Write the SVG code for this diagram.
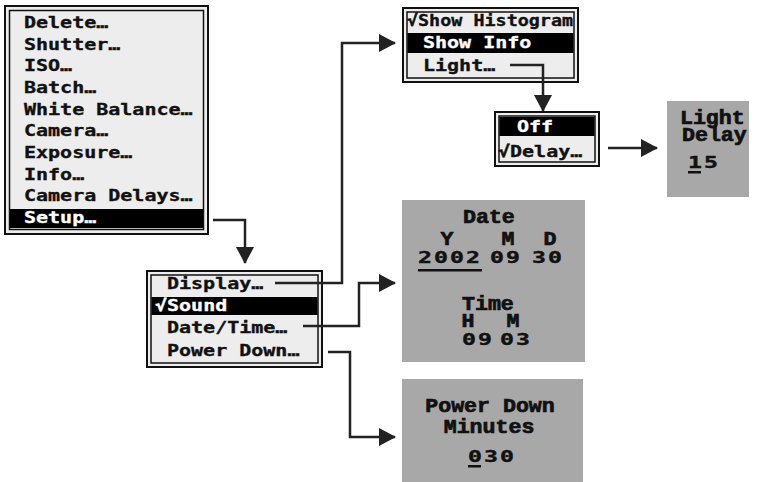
<svg xmlns="http://www.w3.org/2000/svg" width="759" height="482" viewBox="0 0 759 482">
<style>
.bg{fill:#fff}
.mo{fill:#ededed;stroke:#111;stroke-width:2}
.mi{fill:none;stroke:#111;stroke-width:1.5}
.bar{fill:#000}
.m{font-family:"DejaVu Sans Mono",monospace;font-weight:bold;font-size:16px;fill:#111;stroke:#111;stroke-width:0.35;transform:scale(1.25,1)}
.m2{transform:scale(1.15,1)}
.inv{fill:#fff;stroke:#fff}
.box{fill:#a8a8a8}
.w{font-family:"Liberation Mono","DejaVu Sans Mono",monospace;font-weight:bold;font-size:20px;fill:#111;stroke:#111;stroke-width:0.7;transform:scale(1.08,1)}
.d{font-family:"DejaVu Sans Mono",monospace;font-weight:bold;font-size:16px;letter-spacing:1.4px;fill:#111;stroke:#111;stroke-width:0.4;transform:scale(1.45,1)}
.ul{fill:#111}
.c{fill:none;stroke:#222;stroke-width:2.5;marker-end:url(#ah)}
</style>
<defs>
<marker id="ah" markerUnits="userSpaceOnUse" markerWidth="17" markerHeight="18" refX="16" refY="9" orient="auto">
<path d="M0,0 L17,9 L0,18 z" fill="#222"/>
</marker>
</defs>
<rect class="bg" width="759" height="482"/>

<g id="main-menu">
<rect class="mo" x="5" y="6" width="203" height="228"/>
<rect class="mi" x="9.5" y="10.5" width="194" height="219"/>
<rect class="bar" x="10" y="209" width="193" height="19"/>
<text class="m" x="19.2" y="28">Delete…</text>
<text class="m" x="19.2" y="49.7">Shutter…</text>
<text class="m" x="19.2" y="71.3">ISO…</text>
<text class="m" x="19.2" y="93">Batch…</text>
<text class="m" x="19.2" y="114.7">White Balance…</text>
<text class="m" x="19.2" y="136.3">Camera…</text>
<text class="m" x="19.2" y="158">Exposure…</text>
<text class="m" x="19.2" y="179.7">Info…</text>
<text class="m" x="19.2" y="201.3">Camera Delays…</text>
<text class="m inv" x="19.2" y="223">Setup…</text>
</g>

<g id="setup-menu">
<rect class="mo" x="147" y="271" width="175" height="96"/>
<rect class="mi" x="151" y="275" width="167" height="88"/>
<rect class="bar" x="151.5" y="297" width="166" height="18"/>
<text class="m" x="133.6" y="289">Display…</text>
<text class="m inv" x="124" y="311">√Sound</text>
<text class="m" x="133.6" y="333">Date/Time…</text>
<text class="m" x="133.6" y="356">Power Down…</text>
</g>

<g id="display-menu">
<rect class="mo" x="403" y="8" width="175" height="74"/>
<rect class="mi" x="407" y="12" width="167" height="66"/>
<rect class="bar" x="407.5" y="33" width="166" height="20"/>
<text class="m m2" x="353.9" y="26">√Show Histogram</text>
<text class="m inv" x="338.4" y="48">Show Info</text>
<text class="m" x="338.4" y="71">Light…</text>
</g>

<g id="light-menu">
<rect class="mo" x="495" y="112" width="104" height="54"/>
<rect class="mi" x="499" y="116" width="96" height="46"/>
<rect class="bar" x="499.5" y="117" width="95" height="19"/>
<text class="m inv" x="413.6" y="132">Off</text>
<text class="m" x="398.4" y="157">√Delay…</text>
</g>

<g id="light-delay">
<rect class="box" x="667" y="101" width="82" height="96"/>
<text class="w" x="629.6" y="124">Light</text>
<text class="w" x="631.5" y="141">Delay</text>
<text class="d" x="474.5" y="168">15</text>
<rect class="ul" x="688" y="171" width="13" height="2.5"/>
</g>

<g id="date-time">
<rect class="box" x="402" y="200" width="183" height="162"/>
<text class="w" x="428.7" y="223">Date</text>
<text class="w" x="413.9" y="245" text-anchor="middle">Y</text>
<text class="w" x="470.4" y="245" text-anchor="middle">M</text>
<text class="w" x="509.3" y="245" text-anchor="middle">D</text>
<text class="d" x="288.3" y="263">2002</text>
<text class="d" x="337.9" y="263">09</text>
<text class="d" x="366.9" y="263">30</text>
<rect class="ul" x="418" y="269" width="64" height="2.5"/>
<text class="w" x="427.8" y="310">Time</text>
<text class="w" x="433.3" y="327" text-anchor="middle">H</text>
<text class="w" x="475" y="327" text-anchor="middle">M</text>
<text class="d" x="318.6" y="345">09</text>
<text class="d" x="344.8" y="345">03</text>
</g>

<g id="power-down">
<rect class="box" x="402" y="379" width="181" height="103"/>
<text class="w" x="453.7" y="412" text-anchor="middle">Power Down</text>
<text class="w" x="452.8" y="433" text-anchor="middle">Minutes</text>
<text class="d" x="322.8" y="462">030</text>
<rect class="ul" x="468" y="465" width="13" height="2.5"/>
</g>

<g id="connectors">
<path class="c" d="M213,220 H245 V263"/>
<path class="c" d="M275,283 H342 V43 H395"/>
<path class="c" d="M510,65 H543 V111"/>
<path class="c" d="M608,148 H657"/>
<path class="c" d="M303,326 H359 V283 H395"/>
<path class="c" d="M328,352 H350 V437 H395"/>
</g>
</svg>
